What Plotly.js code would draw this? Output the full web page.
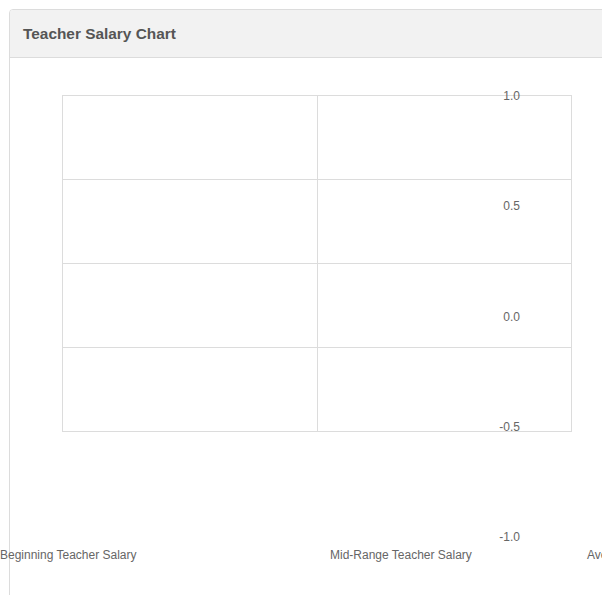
<!DOCTYPE html>
<html>
<head>
<meta charset="utf-8">
<script src="https://cdn.plot.ly/plotly-3.0.1.min.js"></script>
<style>
  html, body { margin: 0; padding: 0; width: 602px; height: 595px; overflow: hidden; background: #fff; }
  .panel { position: absolute; left: 9px; top: 9px; width: 700px; height: 700px;
           border: 1px solid #dcdcdc; border-radius: 4px; background: #fff; overflow: hidden; }
  .panel-heading { height: 47px; background: #f2f2f2; border-bottom: 1px solid #dcdcdc;
           font-family: "Liberation Sans", Arial, sans-serif; font-weight: bold; font-size: 15.4px;
           color: #555; line-height: 47px; padding-left: 13px; }
  #chart { position: absolute; left: 0; top: 0; width: 602px; height: 595px; }
</style>
</head>
<body>
<div class="panel"><div class="panel-heading" id="heading"></div></div>
<div id="chart"></div>
<script>
// ---- data ----
var chartTitle = "Teacher Salary Chart";
var categories = ["Beginning Teacher Salary", "Mid-Range Teacher Salary", "Average Teacher Salary"];
var seriesValues = [];            // the chart has no plotted values
var yTickValues = [1, 0.5, 0, -0.5, -1];
var yTickLabels = ["1.0", "0.5", "0.0", "-0.5", "-1.0"];

// ---- layout positions (pixels on the 602x595 page) ----
var W = 602, H = 595;
var labelLeftPx = [-1, 329, 586];
var labelCenterYPx = 555;

document.getElementById("heading").textContent = chartTitle;

var font = "Liberation Sans, Arial, Helvetica, sans-serif";
var gridColor = "#dcdcdc";
var textColor = "#666";

var traces = [
  { type: "scatter", mode: "lines", x: seriesValues.map(function (v, i) { return i; }), y: seriesValues,
    xaxis: "x", yaxis: "y", showlegend: false, hoverinfo: "skip" },
  { type: "scatter", mode: "lines", x: [], y: [], xaxis: "x2", yaxis: "y2", showlegend: false, hoverinfo: "skip" }
];

var annotations = categories.map(function (c, i) {
  return { text: c, xref: "paper", yref: "paper", x: labelLeftPx[i] / W, y: 1 - labelCenterYPx / H,
           xanchor: "left", yanchor: "middle", showarrow: false, borderpad: 0,
           font: { family: font, size: 12, color: textColor } };
});

var layout = {
  width: W, height: H,
  margin: { l: 0, r: 0, t: 0, b: 0, pad: 0 },
  paper_bgcolor: "rgba(0,0,0,0)",
  plot_bgcolor: "rgba(0,0,0,0)",
  showlegend: false,
  xaxis: { domain: [63 / W, 571 / W], range: [0, categories.length - 1], dtick: 1, tick0: 0,
           showgrid: true, gridcolor: gridColor, gridwidth: 1, zeroline: false,
           showline: true, linecolor: gridColor, linewidth: 1, mirror: true,
           showticklabels: false, ticks: "", fixedrange: true },
  yaxis: { domain: [(H - 431) / H, (H - 96) / H], range: [-1, 1], dtick: 0.5, tick0: 0,
           showgrid: true, gridcolor: gridColor, gridwidth: 1, zeroline: false,
           showline: true, linecolor: gridColor, linewidth: 1, mirror: true,
           showticklabels: false, ticks: "", fixedrange: true },
  xaxis2: { domain: [63 / W, 571 / W], range: [0, 1], visible: false, anchor: "y2", fixedrange: true },
  yaxis2: { domain: [(H - 537) / H, (H - 96) / H], range: [-1, 1], anchor: "free", position: 520 / W,
            tickmode: "array", tickvals: yTickValues, ticktext: yTickLabels,
            showgrid: false, zeroline: false, showline: false, ticks: "",
            tickfont: { family: font, size: 12, color: textColor }, fixedrange: true },
  annotations: annotations
};

Plotly.newPlot("chart", traces, layout, { staticPlot: true, displayModeBar: false });
</script>
</body>
</html>
